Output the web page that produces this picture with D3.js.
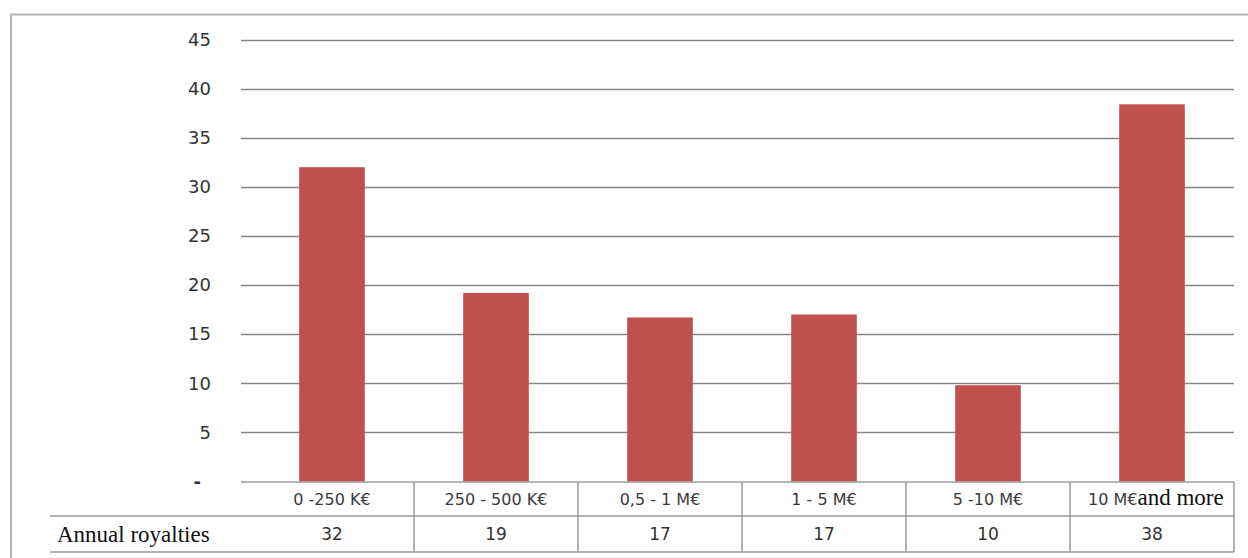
<!DOCTYPE html>
<html>
<head>
<meta charset="utf-8">
<script src="https://cdn.jsdelivr.net/npm/d3@7"></script>
<style>
  body { margin: 0; background: #fff; }
  svg { display: block; }
</style>
</head>
<body>
<div id="chart"></div>
<script>
// data
const categories = ["0 -250 K€", "250 - 500 K€", "0,5 - 1 M€", "1 - 5 M€", "5 -10 M€", "10 M€"];
const lastSuffix = "and more";
const seriesName = "Annual royalties";
const royalties = [32, 19.2, 16.7, 17, 9.8, 38.4];
const yTicks = [0, 5, 10, 15, 20, 25, 30, 35, 40, 45];

const width = 1248, height = 558;

const svg = d3.select("#chart")
  .append("svg")
  .attr("width", width)
  .attr("height", height);

// outer frame (top + left edge)
svg.append("path")
  .attr("d", `M11,${height} L11,14.5 L${width},14.5`)
  .attr("fill", "none")
  .attr("stroke", "#b4b4b4")
  .attr("stroke-width", 2);

const x = d3.scaleBand()
  .domain(categories)
  .range([250, 1234])
  .paddingInner(0.6)
  .paddingOuter(0.3);

const y = d3.scaleLinear()
  .domain([0, 45])
  .range([481.5, 39.5]);

// gridlines
svg.append("g")
  .selectAll("line")
  .data(yTicks.filter(d => d > 0))
  .join("line")
  .attr("x1", 241)
  .attr("x2", 1234)
  .attr("y1", d => Math.round(y(d)) + 0.5)
  .attr("y2", d => Math.round(y(d)) + 0.5)
  .attr("stroke", "#868686")
  .attr("stroke-width", 1.5);

// y axis labels
const yAxis = d3.axisLeft(y)
  .tickValues(yTicks)
  .tickSize(0)
  .tickPadding(0)
  .tickFormat(d => d === 0 ? "-" : d);

svg.append("g")
  .attr("transform", "translate(211,0)")
  .call(yAxis)
  .call(g => g.select(".domain").remove())
  .call(g => g.selectAll("text")
    .attr("font-family", "DejaVu Sans, sans-serif")
    .attr("font-size", 18)
    .attr("fill", "#333"))
  .call(g => g.selectAll(".tick").filter(d => d === 0).select("text")
    .attr("dx", -10)
    .attr("font-weight", "bold"));

// bars
svg.append("g")
  .selectAll("rect")
  .data(royalties)
  .join("rect")
  .attr("x", (d, i) => x(categories[i]))
  .attr("width", x.bandwidth())
  .attr("y", d => y(d))
  .attr("height", d => y(0) - y(d))
  .attr("fill", "#c0504d");

// data table under the axis
const rowTop = 482, rowMid = 516, rowBottom = 552;
const colStep = x.step();
const table = svg.append("g")
  .attr("stroke", "#9a9a9a")
  .attr("stroke-width", 1.5)
  .attr("fill", "none");

table.append("line").attr("x1", 241).attr("x2", 1234).attr("y1", rowTop).attr("y2", rowTop);
table.append("line").attr("x1", 50).attr("x2", 1234).attr("y1", rowMid).attr("y2", rowMid);
table.append("line").attr("x1", 50).attr("x2", 1234).attr("y1", rowBottom).attr("y2", rowBottom);

table.selectAll("line.v")
  .data(categories)
  .join("line")
  .attr("class", "v")
  .attr("x1", d => x(d) - x.step() * x.paddingInner() / 2 + colStep)
  .attr("x2", d => x(d) - x.step() * x.paddingInner() / 2 + colStep)
  .attr("y1", rowTop)
  .attr("y2", rowBottom);

const colCenter = d => x(d) + x.bandwidth() / 2;
const isLast = i => i === categories.length - 1;

// category labels
const catText = svg.append("g")
  .selectAll("text")
  .data(categories)
  .join("text")
  .attr("x", (d, i) => isLast(i) ? colCenter(d) - 64 : colCenter(d))
  .attr("y", 505)
  .attr("text-anchor", (d, i) => isLast(i) ? "start" : "middle")
  .attr("font-family", "DejaVu Sans, sans-serif")
  .attr("font-size", 16)
  .attr("fill", "#3a3a3a");

catText.append("tspan").text(d => d);
catText.filter((d, i) => isLast(i))
  .append("tspan")
  .attr("font-family", "Liberation Serif, serif")
  .attr("font-size", 23)
  .attr("fill", "#111")
  .text(lastSuffix);

// value labels
svg.append("g")
  .selectAll("text")
  .data(royalties)
  .join("text")
  .attr("x", (d, i) => colCenter(categories[i]))
  .attr("y", 540)
  .attr("text-anchor", "middle")
  .attr("font-family", "DejaVu Sans, sans-serif")
  .attr("font-size", 17)
  .attr("fill", "#333")
  .text(d => d3.format(".0f")(d));

// row header
svg.append("text")
  .attr("x", 57)
  .attr("y", 542)
  .attr("font-family", "Liberation Serif, serif")
  .attr("font-size", 23)
  .attr("fill", "#111")
  .text(seriesName);
</script>
</body>
</html>
